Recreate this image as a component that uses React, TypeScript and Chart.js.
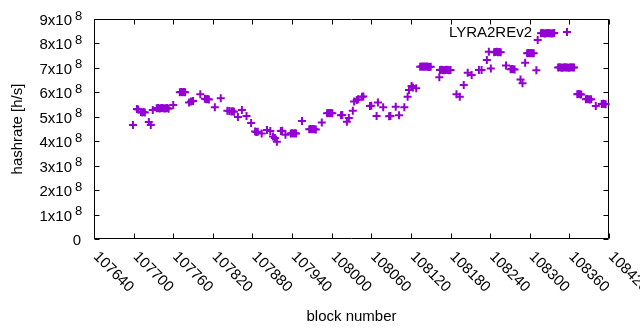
import React, { useEffect, useRef } from "react";
import { Chart, registerables } from "chart.js";

Chart.register(...registerables);

// ---- data ----
const seriesName = "LYRA2REv2";
const xTitle = "block number";
const yTitle = "hashrate [h/s]";
const xTicks = [107640, 107700, 107760, 107820, 107880, 107940, 108000, 108060, 108120, 108180, 108240, 108300, 108360, 108420];
const yTicks = [0, 1, 2, 3, 4, 5, 6, 7, 8, 9]; // x 10^8 h/s

const blocks = [
  107699, 107705, 107707, 107711, 107713, 107715, 107717, 107723, 107726, 107729,
  107735, 107737, 107739, 107741, 107743, 107745, 107747, 107749, 107751, 107753,
  107760, 107770, 107772, 107774, 107776, 107778, 107784, 107787, 107790, 107801,
  107808, 107810, 107812, 107814, 107823, 107832, 107842, 107845, 107848, 107850, 107852,
  107858, 107864, 107871, 107878, 107884, 107886, 107888, 107894, 107902, 107907,
  107911, 107914, 107917, 107923, 107925, 107930, 107938, 107940, 107942, 107944, 107946,
  107955, 107966, 107968, 107970, 107972, 107974, 107976, 107985,
  107993, 107995, 107997, 107999, 108001, 108014, 108016, 108023, 108026, 108032, 108034, 108038, 108040,
  108046, 108048, 108058, 108060, 108068, 108070, 108078, 108087, 108089, 108097, 108102, 108110,
  108115, 108117, 108121, 108123, 108128,
  108134, 108136, 108138, 108140, 108142, 108144, 108146, 108148, 108150,
  108163, 108164, 108166, 108168, 108170, 108172, 108174, 108176, 108178, 108180,
  108189, 108194, 108200, 108206, 108212, 108223, 108227, 108235, 108238, 108241,
  108246, 108248, 108250, 108252, 108254, 108256, 108264, 108271, 108273, 108275, 108277,
  108286, 108289, 108293, 108296, 108298, 108300, 108302, 108304, 108306, 108310, 108312,
  108317, 108319, 108321, 108323, 108325, 108327, 108329, 108331, 108333, 108335, 108337,
  108343, 108345, 108347, 108349, 108351, 108353, 108355, 108357, 108359, 108361, 108363, 108365, 108367,
  108372, 108374, 108376, 108378, 108385, 108387, 108389, 108391, 108393, 108400, 108409, 108411, 108413, 108415,
];

// hashrate in units of 10^8 h/s
const hashrate = [
  4.66, 5.32, 5.30, 5.20, 5.18, 5.20, 5.18, 4.79, 4.66, 5.28,
  5.35, 5.36, 5.34, 5.35, 5.36, 5.35, 5.34, 5.35, 5.36, 5.33,
  5.48, 6.00, 6.01, 6.00, 6.01, 6.00, 5.58, 5.62, 5.65, 5.92,
  5.74, 5.72, 5.73, 5.71, 5.39, 5.76, 5.25, 5.24, 5.22, 5.23, 5.21,
  4.99, 5.28, 5.03, 4.75, 4.40, 4.38, 4.39, 4.32, 4.46, 4.42,
  4.19, 4.13, 3.98, 4.42, 4.43, 4.26, 4.32, 4.33, 4.32, 4.33, 4.32,
  4.83, 4.49, 4.50, 4.49, 4.50, 4.49, 4.48, 4.77,
  5.14, 5.15, 5.14, 5.15, 5.14, 5.06, 5.07, 4.80, 4.95, 5.25, 5.63, 5.69, 5.72,
  5.82, 5.83, 5.44, 5.45, 5.03, 5.58, 5.39, 5.02, 5.03, 5.41, 5.06, 5.39,
  5.82, 6.10, 6.26, 6.20, 6.17,
  7.05, 7.06, 7.05, 7.06, 7.05, 7.06, 7.05, 7.04, 7.05,
  6.62, 6.91, 6.92, 6.91, 6.90, 6.91, 6.92, 6.91, 6.90, 6.91,
  5.92, 5.82, 6.30, 6.80, 6.71, 6.91, 6.91, 7.32, 7.66, 6.98,
  7.64, 7.65, 7.66, 7.64, 7.65, 7.64, 7.10, 6.94, 6.95, 6.94, 6.93,
  6.53, 6.37, 7.21, 7.60, 7.61, 7.60, 7.61, 7.60, 7.60, 6.90, 8.14,
  8.42, 8.43, 8.42, 8.41, 8.42, 8.43, 8.42, 8.42, 8.41, 8.42, 8.43,
  7.02, 7.03, 7.02, 7.01, 7.02, 7.03, 7.02, 7.02, 7.01, 7.02, 7.03, 7.02, 7.02,
  5.92, 5.93, 5.92, 5.91, 5.72, 5.73, 5.72, 5.71, 5.72, 5.44, 5.52, 5.53, 5.52, 5.51,
];

const PURPLE = "#9400d3";
const FONT = '"Liberation Sans", Arial, sans-serif';

const gnuplotPlugin = {
  id: "gnuplotDecor",
  beforeDatasetsDraw(chart: any) {
    const { ctx, chartArea: a, scales } = chart;
    const xs = scales.x;
    const ys = scales.y;
    const L = Math.round(a.left) + 0.5;
    const R = Math.round(a.right) - 0.5;
    const T = Math.round(a.top) + 0.5;
    const B = Math.round(a.bottom) - 0.5;
    ctx.save();
    ctx.strokeStyle = "#000";
    ctx.lineWidth = 1;
    ctx.beginPath();
    ctx.rect(L, T, R - L, B - T);
    for (const v of yTicks) {
      const py = Math.round(ys.getPixelForValue(v * 1e8)) + 0.5;
      ctx.moveTo(L, py);
      ctx.lineTo(L + 5, py);
      ctx.moveTo(R, py);
      ctx.lineTo(R - 5, py);
    }
    for (const v of xTicks) {
      const px = Math.round(xs.getPixelForValue(v)) + 0.5;
      ctx.moveTo(px, B);
      ctx.lineTo(px, B - 5);
      ctx.moveTo(px, T);
      ctx.lineTo(px, T + 5);
    }
    ctx.stroke();

    ctx.fillStyle = "#000";
    // y tick labels  (N x 10^8)
    for (const v of yTicks) {
      const py = ys.getPixelForValue(v * 1e8);
      ctx.textBaseline = "alphabetic";
      if (v === 0) {
        ctx.font = `15px ${FONT}`;
        ctx.textAlign = "right";
        ctx.fillText("0", 81, py + 6);
      } else {
        ctx.font = `15px ${FONT}`;
        ctx.textAlign = "right";
        ctx.fillText(`${v}x10`, 72, py + 6);
        ctx.font = `13px ${FONT}`;
        ctx.textAlign = "left";
        ctx.fillText("8", 75, py + 0.5);
      }
    }
    // x tick labels rotated 45deg clockwise
    ctx.font = `15px ${FONT}`;
    ctx.textAlign = "left";
    ctx.textBaseline = "top";
    for (const v of xTicks) {
      const px = xs.getPixelForValue(v);
      ctx.save();
      ctx.translate(px + 7, 249);
      ctx.rotate(Math.PI / 4);
      ctx.fillText(String(v), 0, 0);
      ctx.restore();
    }
    // axis titles
    ctx.textAlign = "center";
    ctx.textBaseline = "alphabetic";
    ctx.fillText(xTitle, (a.left + a.right) / 2, 321);
    ctx.save();
    ctx.translate(22, (a.top + a.bottom) / 2);
    ctx.rotate(-Math.PI / 2);
    ctx.fillText(yTitle, 0, 0);
    ctx.restore();

    // key
    ctx.textAlign = "right";
    ctx.fillText(seriesName, 532, 37);
    ctx.strokeStyle = PURPLE;
    ctx.lineWidth = 2;
    ctx.beginPath();
    ctx.moveTo(563, 32);
    ctx.lineTo(571, 32);
    ctx.moveTo(567, 28);
    ctx.lineTo(567, 36);
    ctx.stroke();
    ctx.restore();
  },
};

export default function App() {
  const ref = useRef<HTMLCanvasElement | null>(null);
  useEffect(() => {
    if (!ref.current) return;
    const data = blocks.map((b, i) => ({ x: b, y: hashrate[i] * 1e8 }));
    const chart = new Chart(ref.current, {
      type: "scatter",
      data: {
        datasets: [
          {
            label: seriesName,
            data,
            pointStyle: "cross",
            pointRadius: 4,
            pointBorderWidth: 2,
            borderColor: PURPLE,
            backgroundColor: PURPLE,
            pointHoverRadius: 4,
            showLine: false,
            clip: false as any,
          },
        ],
      },
      options: {
        responsive: false,
        animation: false,
        events: [],
        layout: { padding: { left: 0, right: 31, top: 19, bottom: 0 } },
        plugins: { legend: { display: false }, tooltip: { enabled: false } },
        scales: {
          x: {
            type: "linear",
            min: 107640,
            max: 108420,
            ticks: { display: false, stepSize: 60 },
            grid: { display: false },
            border: { display: false },
            afterFit: (s: any) => {
              s.height = 91;
            },
          },
          y: {
            min: 0,
            max: 9e8,
            ticks: { display: false, stepSize: 1e8 },
            grid: { display: false },
            border: { display: false },
            afterFit: (s: any) => {
              s.width = 94;
            },
          },
        },
      },
      plugins: [gnuplotPlugin],
    });
    return () => chart.destroy();
  }, []);
  return (
    <div style={{ position: "fixed", left: 0, top: 0, width: 640, height: 330, background: "#fff" }}>
      <canvas ref={ref} width={640} height={330} style={{ display: "block" }} />
    </div>
  );
}
